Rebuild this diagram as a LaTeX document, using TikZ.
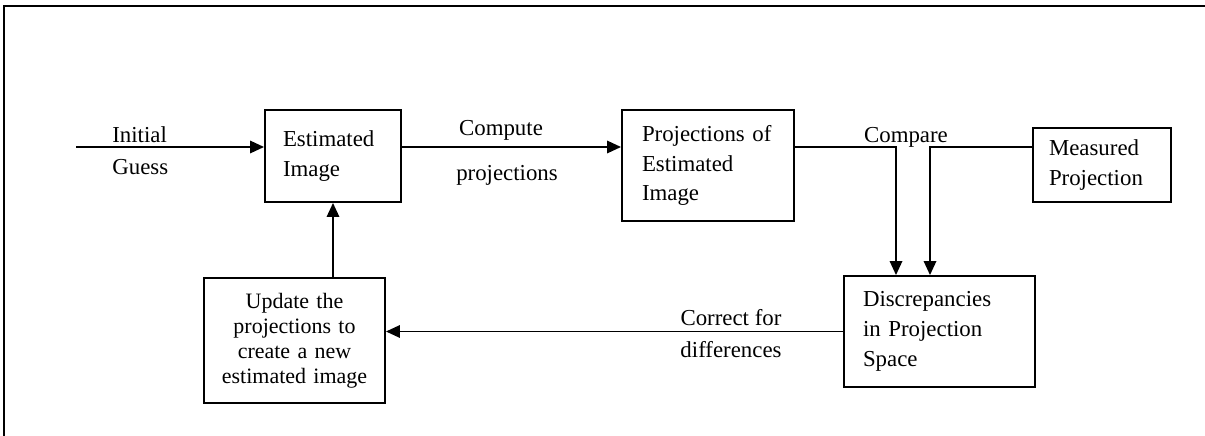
\documentclass[tikz,border=0pt]{standalone}
\usepackage{fontspec}
\setmainfont{Liberation Serif}
\usetikzlibrary{arrows.meta}

\begin{document}
\begin{tikzpicture}[
  box/.style={draw, line width=1.1pt, inner xsep=0pt, align=left, font=\fontsize{13}{17}\selectfont},
  lbl/.style={inner sep=0pt, font=\fontsize{13}{17}\selectfont},
  arr/.style={line width=1pt, -{Triangle[length=0.28cm,width=0.25cm]}}
]
\useasboundingbox (0,0) rectangle (24.1,-8.72);

% Frame
\draw[line width=1.3pt] (0.08,-8.72) -- (0.08,-0.12) -- (24.1,-0.12);

% Blocks
\node[box, minimum width=2.72cm, minimum height=1.84cm, text width=2.0cm] (est) at (6.66,-3.12) {Estimated\\Image};
\node[box, minimum width=3.44cm, minimum height=2.22cm, text width=2.64cm] (proj) at (14.16,-3.31) {Projections of\\Estimated\\Image};
\node[box, minimum width=2.76cm, minimum height=1.48cm, text width=2.12cm] (meas) at (22.04,-3.30) {Measured\\Projection};
\node[box, minimum width=3.82cm, minimum height=2.22cm, text width=3.06cm] (disc) at (18.79,-6.63) {Discrepancies\\in Projection\\Space};
\node[box, minimum width=3.62cm, minimum height=2.5cm, text width=3.3cm, align=center, font=\fontsize{12.5}{14.2}\selectfont] (upd) at (5.89,-6.81) {Update the\\projections to\\create a new\\estimated image};

% Helper points
\coordinate (guess) at (1.52,-2.94);
\coordinate (cmpL) at (17.92,-2.94);
\coordinate (cmpR) at (18.60,-2.94);

% Connectors
\draw[arr] (guess) -- (est.west |- guess);
\draw[arr] (est.east |- guess) -- (proj.west |- guess);
\draw[arr] (proj.east |- cmpL) -- (cmpL) -- (cmpL |- disc.north);
\draw[arr] (meas.west |- cmpR) -- (cmpR) -- (cmpR |- disc.north);
\draw[arr] (disc.west) -- (upd.east |- disc.west);
\draw[arr] (est.south |- upd.north) -- (est.south);

% Labels
\node[lbl, anchor=west] (initlbl) at (2.24,-2.70) {Initial};
\node[lbl, anchor=west] (guesslbl) at (2.24,-3.34) {Guess};
\node[lbl] (complbl) at (10.02,-2.60) {Compute};
\node[lbl] (projlbl) at (10.14,-3.50) {projections};
\node[lbl] (cmplbl) at (18.12,-2.74) {Compare};
\node[lbl] (corrlbl) at (14.62,-6.36) {Correct for};
\node[lbl] (difflbl) at (14.62,-7.00) {differences};
\end{tikzpicture}
\end{document}
